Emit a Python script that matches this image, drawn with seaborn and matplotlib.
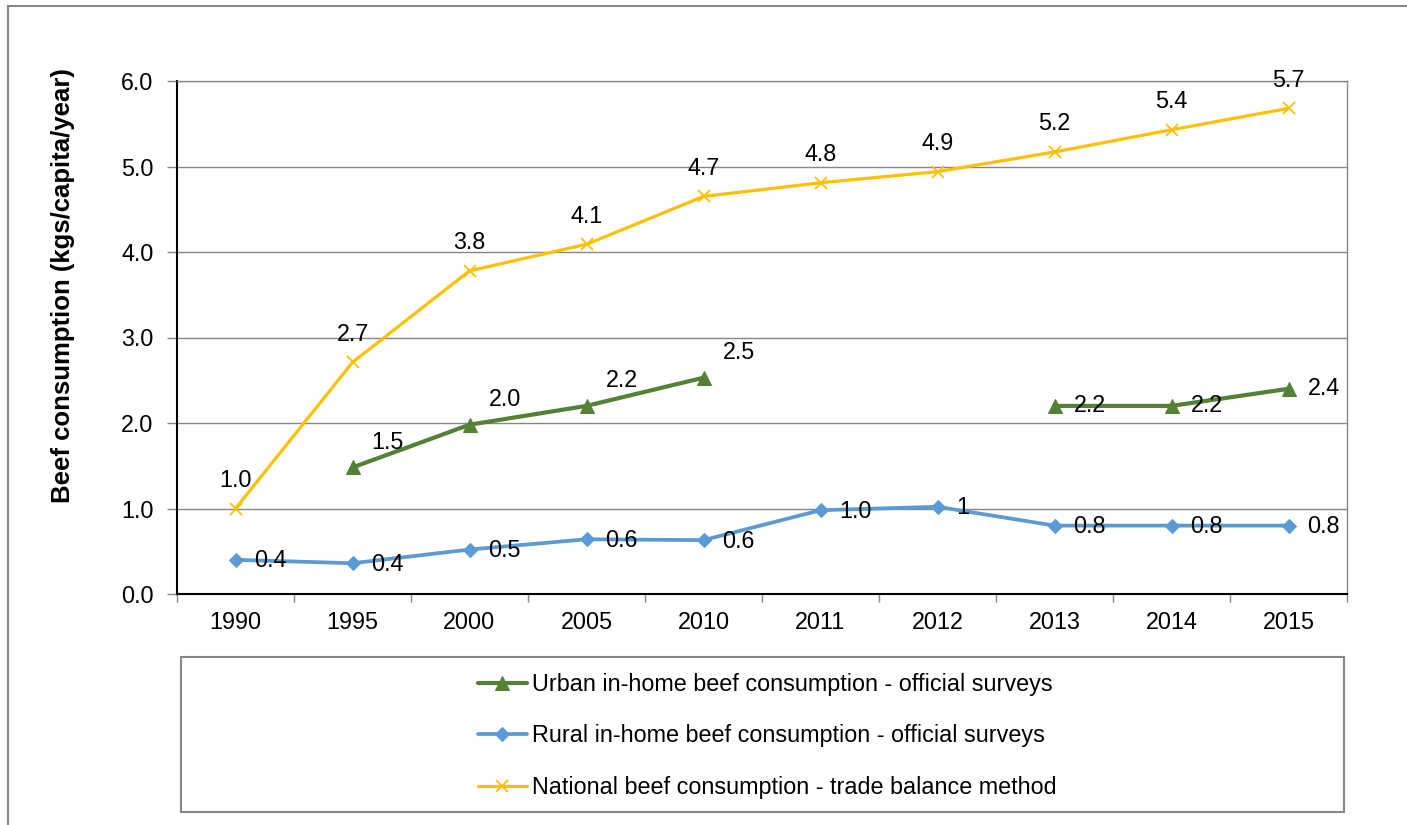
import matplotlib
matplotlib.use("Agg")
import matplotlib.pyplot as plt
from matplotlib.patches import Rectangle
import seaborn as sns
import pandas as pd
import numpy as np

years = ["1990", "1995", "2000", "2005", "2010", "2011", "2012", "2013", "2014", "2015"]

urban = [np.nan, 1.48, 1.98, 2.2, 2.53, np.nan, np.nan, 2.2, 2.2, 2.4]
urban_labels = ["", "1.5", "2.0", "2.2", "2.5", "", "", "2.2", "2.2", "2.4"]

rural = [0.4, 0.36, 0.52, 0.64, 0.63, 0.98, 1.02, 0.8, 0.8, 0.8]
rural_labels = ["0.4", "0.4", "0.5", "0.6", "0.6", "1.0", "1", "0.8", "0.8", "0.8"]

national = [1.0, 2.71, 3.78, 4.09, 4.65, 4.81, 4.94, 5.17, 5.43, 5.68]
national_labels = ["1.0", "2.7", "3.8", "4.1", "4.7", "4.8", "4.9", "5.2", "5.4", "5.7"]

names = [
    "Urban in-home beef consumption - official surveys",
    "Rural in-home beef consumption - official surveys",
    "National beef consumption - trade balance method",
]

GREEN = "#538135"
BLUE = "#5B9BD5"
YELLOW = "#FFC000"
GRAY = "#878787"
FS = 16.8


def make_frame(values):
    df = pd.DataFrame({"pos": range(len(years)), "value": values})
    # new segment after every gap so missing years break the line
    df["seg"] = df["value"].isna().cumsum()
    return df.dropna()


if __name__ == "__main__":
    sns.set_theme(style="white")
    plt.rcParams["font.family"] = ["Liberation Sans", "DejaVu Sans"]
    plt.rcParams["text.color"] = "black"
    plt.rcParams["axes.labelcolor"] = "black"
    plt.rcParams["xtick.labelcolor"] = "black"
    plt.rcParams["ytick.labelcolor"] = "black"

    fig = plt.figure(figsize=(14.07, 8.25), dpi=100)
    W, H = 1407, 825
    ax = fig.add_axes([177 / W, 1 - 594 / H, (1347 - 177) / W, (594 - 81) / H])

    u = make_frame(urban)
    r = make_frame(rural)
    n = make_frame(national)

    sns.lineplot(ax=ax, data=u, x="pos", y="value", units="seg", estimator=None,
                 color=GREEN, lw=3, marker="^", ms=10, mec=GREEN, mfc=GREEN,
                 label=names[0])
    sns.lineplot(ax=ax, data=r, x="pos", y="value", units="seg", estimator=None,
                 color=BLUE, lw=2.7, marker="D", ms=7.5, mec=BLUE, mfc=BLUE,
                 label=names[1])
    sns.lineplot(ax=ax, data=n, x="pos", y="value", units="seg", estimator=None,
                 color=YELLOW, lw=2.3, marker="x", ms=9, mec=YELLOW, mew=1.3,
                 label=names[2])

    # data labels
    first_seg = u["seg"].min()
    for (_, row), lab in zip(u.iterrows(), [l for l in urban_labels if l]):
        dy = 25 if row["seg"] == first_seg else 0
        ax.annotate(lab, (row["pos"], row["value"]), xytext=(19, dy),
                    textcoords="offset pixels", ha="left", va="center", fontsize=FS)
    for (_, row), lab in zip(r.iterrows(), rural_labels):
        ax.annotate(lab, (row["pos"], row["value"]), xytext=(19, -1),
                    textcoords="offset pixels", ha="left", va="center", fontsize=FS)
    for (_, row), lab in zip(n.iterrows(), national_labels):
        ax.annotate(lab, (row["pos"], row["value"]), xytext=(0, 28),
                    textcoords="offset pixels", ha="center", va="center", fontsize=FS)

    ax.set_xlim(-0.5, len(years) - 0.5)
    ax.set_ylim(0, 6)
    ax.set_yticks(range(0, 7))
    ax.set_yticklabels([f"{v:.1f}" for v in range(0, 7)])
    ax.set_xticks(np.arange(-0.5, len(years), 1.0))
    ax.set_xticklabels([])
    ax.set_xticks(range(len(years)), minor=True)
    ax.set_xticklabels(years, minor=True)
    ax.tick_params(axis="x", which="major", direction="out", length=6,
                   color=GRAY, width=1, bottom=True)
    ax.tick_params(axis="x", which="minor", length=0, pad=12.5, labelsize=FS,
                   bottom=True)
    ax.tick_params(axis="y", direction="out", length=7, color=GRAY, width=1,
                   pad=10, labelsize=FS, left=True)
    ax.grid(axis="y", color=GRAY, lw=1)
    ax.set_axisbelow(True)

    ax.set_xlabel("")
    ax.set_ylabel("Beef consumption (kgs/capita/year)", fontsize=18.5,
                  fontweight="bold")
    ax.yaxis.set_label_coords(-0.087, 0.602)

    for side in ["left", "bottom"]:
        ax.spines[side].set_color("black")
        ax.spines[side].set_linewidth(1.5)
    for side in ["right", "top"]:
        ax.spines[side].set_color(GRAY)
        ax.spines[side].set_linewidth(1)

    handles, labels = ax.get_legend_handles_labels()
    seen = {}
    for h, l in zip(handles, labels):
        seen.setdefault(l, h)
    if ax.get_legend() is not None:
        ax.get_legend().remove()

    # outer chart border and legend box
    fig.patches.append(Rectangle((8 / W, -0.1), 1.5, 1.1 - 6 / H,
                                 transform=fig.transFigure, fill=False,
                                 ec=GRAY, lw=1.5))
    fig.patches.append(Rectangle((181 / W, 1 - 812 / H), (1344 - 181) / W,
                                 (812 - 657) / H, transform=fig.transFigure,
                                 fill=False, ec=GRAY, lw=1.5))

    fig.legend([seen[k] for k in names], names, loc="upper left",
               bbox_to_anchor=(478 / W, 1 - 673 / H), frameon=False,
               fontsize=FS, handlelength=2.1, handletextpad=0.2,
               labelspacing=1.22, borderpad=0, borderaxespad=0)

    fig.savefig("out.png", dpi=100)
